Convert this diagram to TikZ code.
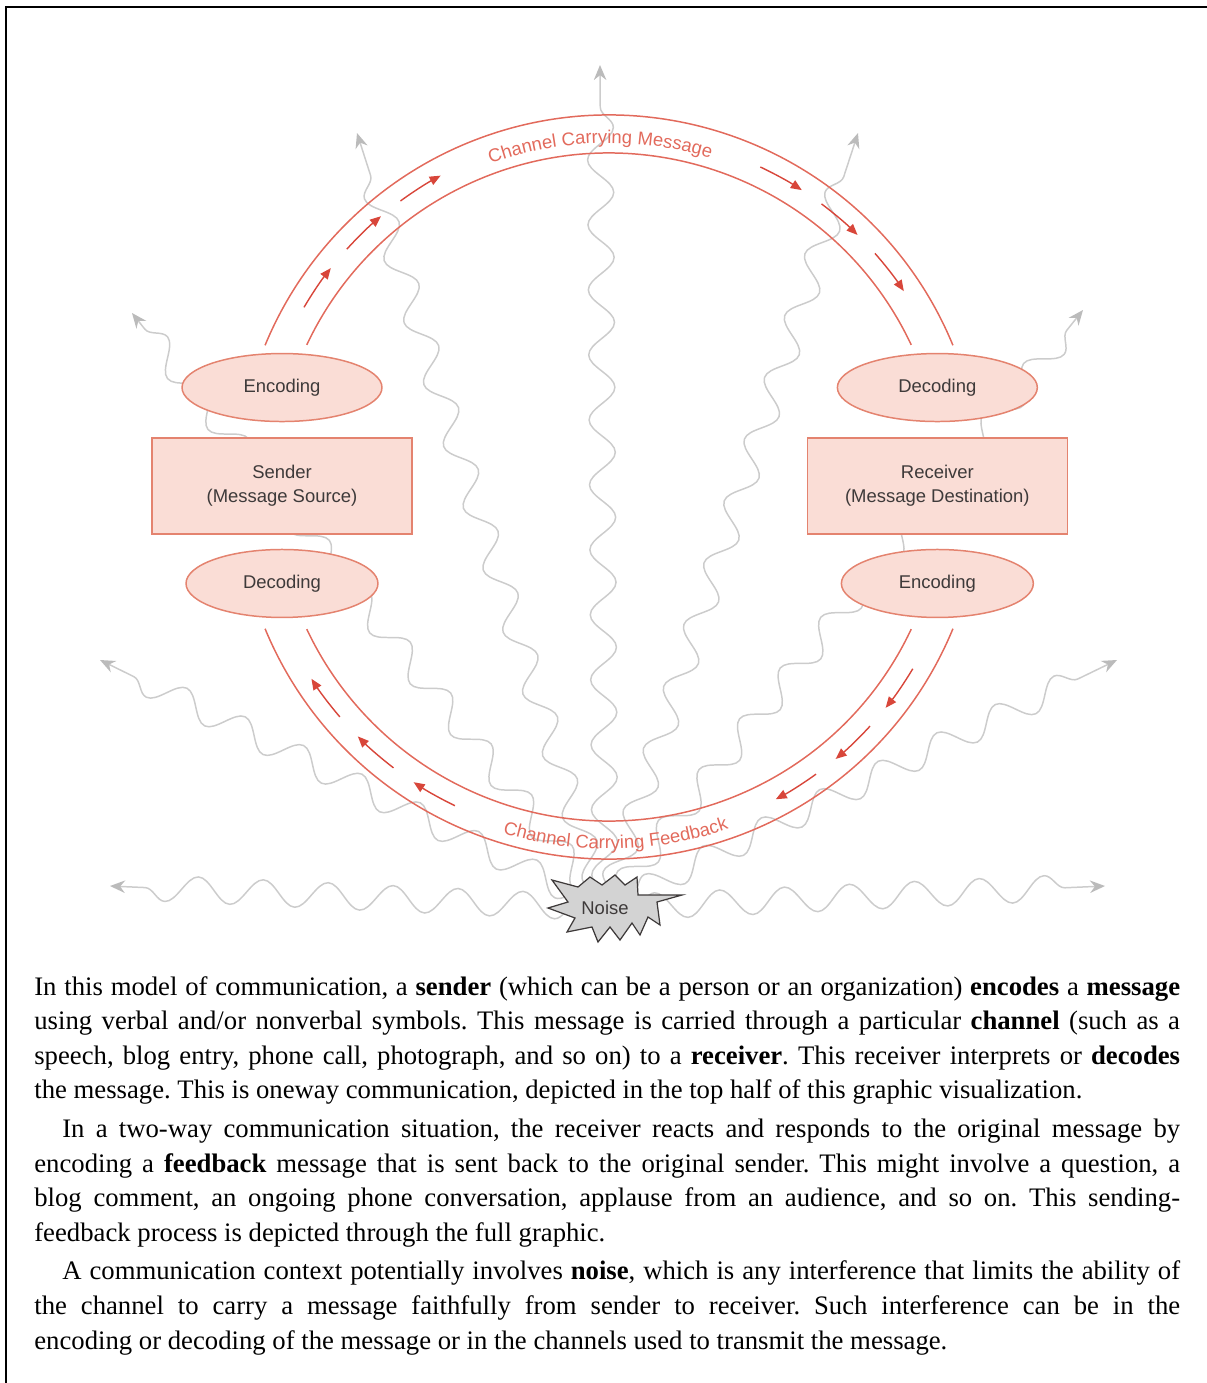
\documentclass[tikz,border=0pt]{standalone}
\usepackage{fontspec}
\setmainfont{Liberation Serif}
\newfontfamily\diagfont{Liberation Sans}
\usepackage{tikz}
\usetikzlibrary{positioning,shapes.geometric,arrows.meta,calc,backgrounds,
                decorations.pathmorphing,decorations.text}
\definecolor{ink}      {HTML}{3E3A3A}
\definecolor{chan}     {HTML}{E26A5C}
\definecolor{chanarr}  {HTML}{D8463A}
\definecolor{blush}    {HTML}{FADDD6}
\definecolor{blushline}{HTML}{E4836F}
\definecolor{haze}     {HTML}{CCCCCC}
\definecolor{hazetip}  {HTML}{BBBBBB}
\definecolor{burst}    {HTML}{D3D3D3}
\tikzset{
  every node/.style={font=\diagfont\fontsize{10.5}{13.6}\selectfont, text=ink},
  % --- nodes
  stage/.style = {ellipse, draw=blushline, fill=blush, line width=0.85pt,
                  minimum width=4cm, minimum height=1.36cm, inner sep=0pt},
  party/.style = {rectangle, draw=blushline, fill=blush, line width=0.85pt,
                  minimum width=5.2cm, minimum height=1.92cm, align=center},
  para/.style  = {inner sep=0pt, anchor=base west, text=black, font=\rmfamily},
  % --- edges
  ring/.style  = {draw=chan, line width=0.85pt},
  flow/.style  = {draw=chanarr, line width=0.8pt, -{Triangle[length=2.2mm,width=1.8mm]}},
  wave/.style  = {draw=haze, line width=0.85pt, -{Stealth[length=3mm,width=2.5mm,color=hazetip]},
                  decorate, decoration={snake, amplitude=0.26cm, segment length=1.3cm,
                  post length=4mm}},
  chanlbl/.style = {decorate, decoration={text along path, text align=center,
                  text={|\diagfont\fontsize{10.5}{13}\selectfont\color{chan}|#1}}},
}

\begin{document}
\begin{tikzpicture}[x=0.02cm,y=0.02cm]
  \useasboundingbox (0,0) rectangle (1207,-1383);
  \draw[line width=1.1pt] (1207,-7) -- (6,-7) -- (6,-1383);

  \coordinate (hub) at (609,-487);

  % sender side
  \node[party] (sender) at (282,-486) {Sender\\(Message Source)};
  \node[stage, above=0.3cm of sender] (senc) {Encoding};
  \node[stage, below=0.28cm of sender, minimum width=3.84cm] (sdec) {Decoding};

  % receiver side
  \node[party, right=7.88cm of sender] (receiver) {Receiver\\(Message Destination)};
  \node[stage, above=0.3cm of receiver] (rdec) {Decoding};
  \node[stage, below=0.28cm of receiver, minimum width=3.84cm] (renc) {Encoding};

  % the two channels
  \draw[ring] ([shift={(22.4:372)}]hub) arc[start angle=22.4, end angle=157.6, radius=372];
  \draw[ring] ([shift={(25.2:334)}]hub) arc[start angle=25.2, end angle=154.8, radius=334];
  \draw[ring] ([shift={(-22.4:372)}]hub) arc[start angle=-22.4, end angle=-157.6, radius=372];
  \draw[ring] ([shift={(-25.2:334)}]hub) arc[start angle=-25.2, end angle=-154.8, radius=334];
  \foreach \a in {149.5,137.8,126.1,64.7,53.1,41.3,-30.9,-42.5,-54.2,-115.8,-127.5,-139.5}
    \draw[flow] ([shift={(\a:354)}]hub) arc[start angle=\a, end angle=\a-7.7, radius=354];
  \path[chanlbl=Channel Carrying Message]
    ([shift={(131.5:344)}]hub) arc[start angle=131.5, end angle=51.5, radius=344];
  \path[chanlbl=Channel Carrying Feedback]
    ([shift={(-128.9:362)}]hub) arc[start angle=-128.9, end angle=-48.9, radius=362];

  % noise
  \filldraw[draw=ink, fill=burst, line width=0.7pt]
    (548,-908) -- (568,-902) -- (552,-880) -- (578,-887) -- (590,-877) -- (602,-885)
    -- (615,-875) -- (625,-885) -- (637,-877) -- (638,-895) -- (682,-895) -- (657,-902)
    -- (660,-925) -- (648,-917) -- (640,-935) -- (632,-923) -- (620,-940) -- (610,-927)
    -- (598,-942) -- (592,-927) -- (567,-932) -- (575,-918) -- cycle;
  \node (noise) at (605,-908) {Noise};

  \coordinate (w1) at (110,-886);
  \coordinate (w2) at (100,-660);
  \coordinate (w3) at (132,-313);
  \coordinate (w4) at (357,-133);
  \coordinate (w5) at (600,-65);
  \coordinate (w6) at (858,-133);
  \coordinate (w7) at (1083,-310);
  \coordinate (w8) at (1117,-660);
  \coordinate (w9) at (1105,-886);
  \begin{scope}[on background layer]
    \foreach \i in {1,...,9}
      \draw[wave] (noise) -- (w\i);
  \end{scope}

  % caption
  \node[para] (blurb) at (34,-995) {\begin{minipage}[t]{22.92cm}%
    \fontsize{15.2}{19.7}\selectfont\frenchspacing\setlength{\parindent}{0.56cm}%
    \setlength{\parskip}{0.08cm}\tolerance=10000\noindent
    In this model of communication, a \textbf{sender} (which can be a person or an organization) \textbf{encodes} a \textbf{message}\linebreak
    using verbal and/or nonverbal symbols. This message is carried through a particular \textbf{channel} (such as a\linebreak
    speech, blog entry, phone call, photograph, and so on) to a \textbf{receiver}. This receiver interprets or \textbf{decodes}\linebreak
    the message. This is oneway communication, depicted in the top half of this graphic visualization.\par
    In a two-way communication situation, the receiver reacts and responds to the original message by\linebreak
    encoding a \textbf{feedback} message that is sent back to the original sender. This might involve a question, a\linebreak
    blog comment, an ongoing phone conversation, applause from an audience, and so on. This sending-\linebreak
    feedback process is depicted through the full graphic.\par
    A communication context potentially involves \textbf{noise}, which is any interference that limits the ability of\linebreak
    the channel to carry a message faithfully from sender to receiver. Such interference can be in the\linebreak
    encoding or decoding of the message or in the channels used to transmit the message.
  \end{minipage}};
\end{tikzpicture}
\end{document}
